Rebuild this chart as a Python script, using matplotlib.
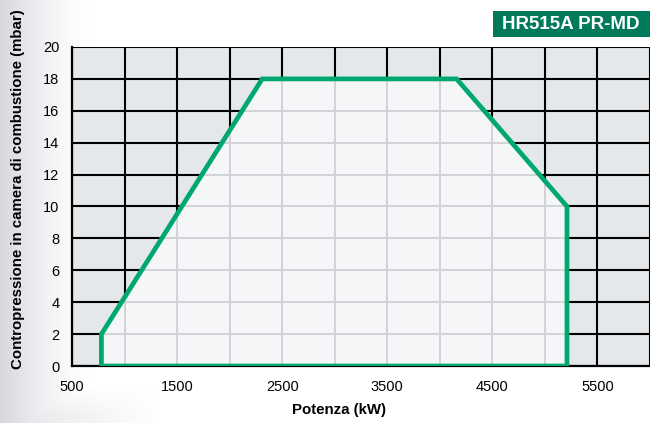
import numpy as np
import matplotlib
matplotlib.use("Agg")
import matplotlib.pyplot as plt
from matplotlib.patches import Polygon, Rectangle

# working field of the burner (power kW vs back pressure mbar)
power = [780, 780, 2310, 4160, 5210, 5210]
pressure = [0, 2, 18, 18, 10, 0]

x_ticks = [500, 1500, 2500, 3500, 4500, 5500]
y_ticks = [0, 2, 4, 6, 8, 10, 12, 14, 16, 18, 20]
x_grid = [500, 1000, 1500, 2000, 2500, 3000, 3500, 4000, 4500, 5000, 5500, 6000]

title = "HR515A PR-MD"
x_label = "Potenza (kW)"
y_label = "Contropressione in camera di combustione (mbar)"

green = "#00a870"
box_green = "#007a5a"

plt.rcParams["font.family"] = ["Liberation Sans", "DejaVu Sans"]

W, H = 650, 423
fig = plt.figure(figsize=(W / 100, H / 100), dpi=100)

# soft grey shading on the left edge of the page
bg = fig.add_axes([0, 0, 1, 1], zorder=-10)
xx, yy = np.meshgrid(np.arange(W), np.arange(H))
wx = np.clip(1 - xx / 90.0, 0, 1) ** 1.5
wy = np.clip((yy - 385) / 30.0, 0, 1) * np.clip(1 - xx / 160.0, 0, 1)
w = np.maximum(wx * 0.9, wy * 0.6)
grey = np.array([0.82, 0.83, 0.85])
img = 1 - w[..., None] * (1 - grey)
bg.imshow(img, aspect="auto", extent=[0, 1, 0, 1])
bg.axis("off")

ax = fig.add_axes([72 / W, 1 - 366 / H, 1 - 72 / W, (366 - 47) / H])
ax.set_facecolor("#e4e8eb")
ax.set_xlim(500, 6000)
ax.set_ylim(0, 20)

# black grid outside the working field
ax.vlines(x_grid, 0, 20, color="black", lw=1.5, zorder=1)
ax.hlines(y_ticks, 500, 6000, color="black", lw=1.5, zorder=1)

pts = np.column_stack([power, pressure])
field = Polygon(pts, closed=True, facecolor="#f4f6f8", edgecolor="none", zorder=2)
ax.add_patch(field)

# light grid inside the working field
vl = ax.vlines(x_grid, 0, 20, color="#d2d3d6", lw=1.4, zorder=3)
hl = ax.hlines(y_ticks, 500, 6000, color="#d2d3d6", lw=1.4, zorder=3)
vl.set_clip_path(field)
hl.set_clip_path(field)

ax.add_patch(Polygon(pts, closed=True, fill=False, edgecolor=green, lw=3.4,
                     joinstyle="miter", zorder=4))

for s in ["top", "right"]:
    ax.spines[s].set_visible(False)
ax.spines["left"].set_linewidth(1.6)
ax.spines["bottom"].set_linewidth(1.6)

ax.set_xticks(x_ticks)
ax.set_yticks(y_ticks)
ax.tick_params(length=0, labelsize=10.5, pad=9)
ax.tick_params(axis="x", pad=10)

fig.text(339 / W, 1 - 410 / H, x_label, ha="center", va="center",
         fontsize=10.8, fontweight="bold")
fig.text(18 / W, 1 - 189 / H, y_label, ha="center", va="center",
         rotation=90, fontsize=10.8, fontweight="bold")

# model badge in the top-right corner
fig.patches.append(Rectangle((493 / W, 1 - 37 / H), (W - 493) / W, 26 / H,
                             transform=fig.transFigure, facecolor=box_green,
                             edgecolor="none"))
fig.text(571 / W, 1 - 24.5 / H, title, ha="center", va="center",
         color="white", fontsize=13.5, fontweight="bold")

fig.savefig("out.png", dpi=100)
